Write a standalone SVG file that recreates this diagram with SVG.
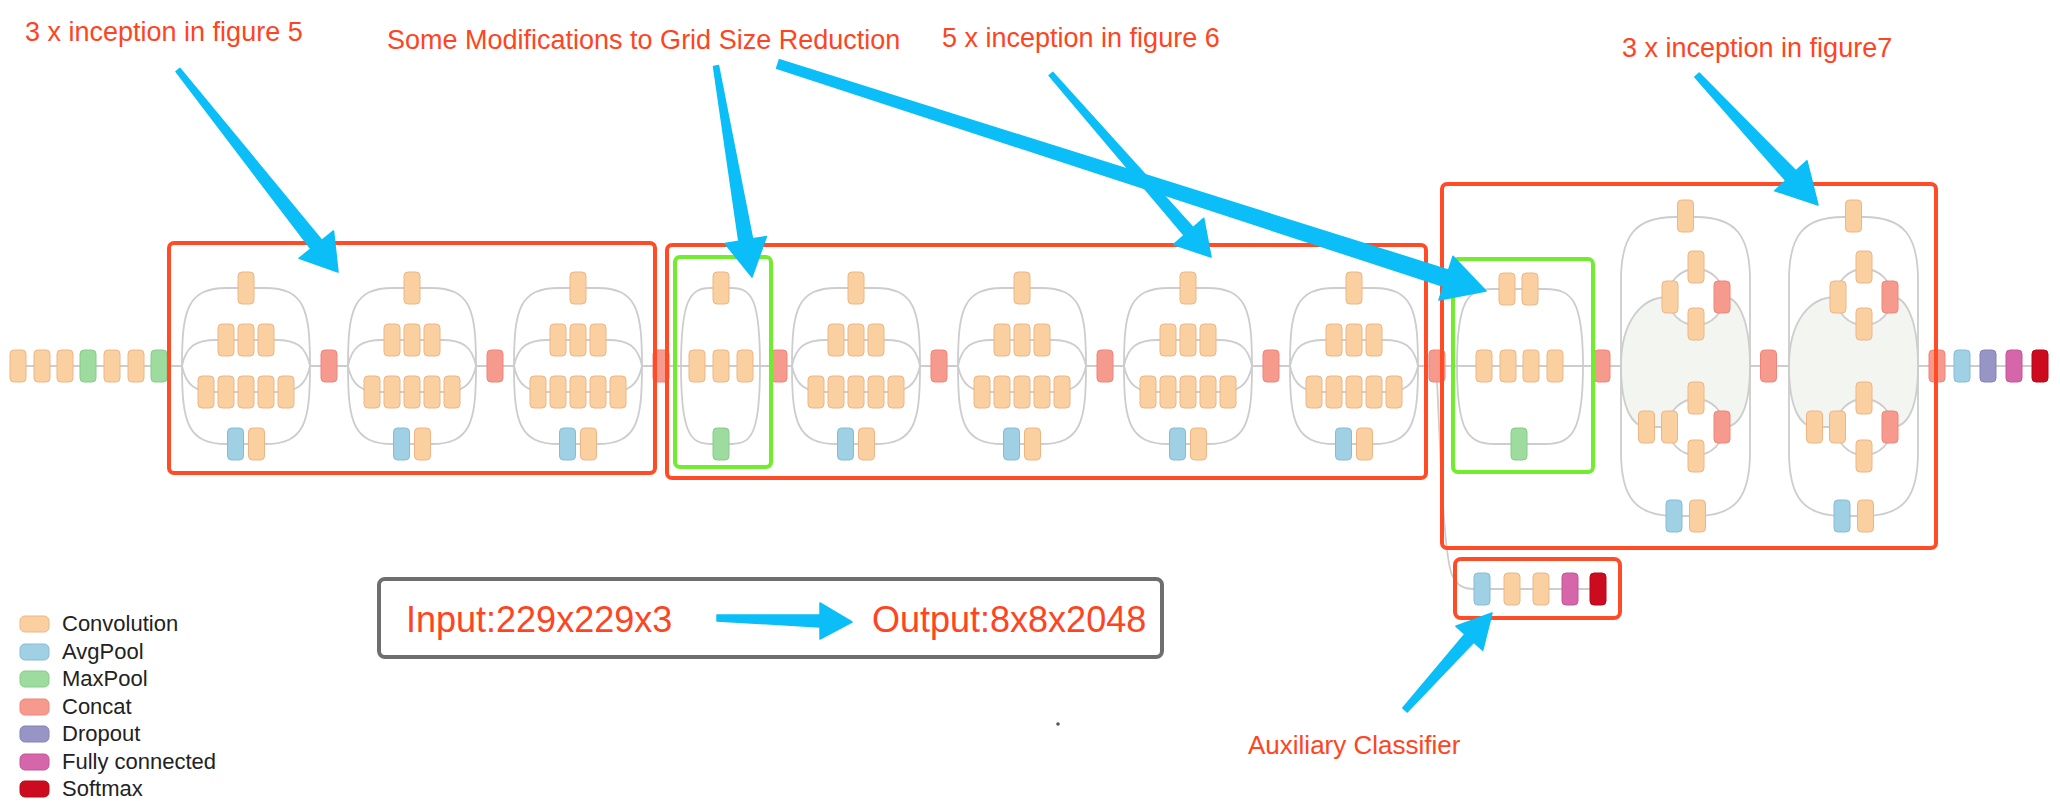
<svg xmlns="http://www.w3.org/2000/svg" xmlns:xlink="http://www.w3.org/1999/xlink" width="2060" height="804" viewBox="0 0 2060 804">
<style>
.ln{fill:none;stroke:#cdcdcd;stroke-width:1.8}
.blob{fill:#f3f6f0;stroke:none}
.cv{fill:#FBD0A1;stroke:#EDB585;stroke-width:1}
.av{fill:#9FD0E4;stroke:#86BDD6;stroke-width:1}
.mx{fill:#9EDB9E;stroke:#86CC88;stroke-width:1}
.cc{fill:#F79A8E;stroke:#EE8578;stroke-width:1}
.dr{fill:#9795C6;stroke:#8583B8;stroke-width:1}
.fc{fill:#D566AA;stroke:#C55598;stroke-width:1}
.sm{fill:#CC0B1E;stroke:#B8081A;stroke-width:1}
.rb{fill:none;stroke:#FF4B26;stroke-width:4}
.gb{fill:none;stroke:#72EC2E;stroke-width:4}
.ar{fill:#0BBEF7;stroke:#0BBEF7;stroke-width:1.5;stroke-linejoin:round}
.lbl{font-family:"Liberation Sans",Arial,sans-serif;fill:#FF4422}
.lg{font-family:"Liberation Sans",Arial,sans-serif;font-size:22px;fill:#222}
</style>
<defs>
<g id="tA">
<path class="ln" d="M0,366 C0,310 5,288 45,288 H83 C123,288 128,310 128,366"/>
<path class="ln" d="M0,366 C0,422 5,444 45,444 H83 C123,444 128,422 128,366"/>
<path class="ln" d="M0,366 C4,346 14,340 34,340 H94 C114,340 124,346 128,366"/>
<path class="ln" d="M0,366 C4,386 14,392 34,392 H94 C114,392 124,386 128,366"/>
<rect class="cv" x="56" y="272" width="16" height="32" rx="4"/>
<rect class="cv" x="36" y="324" width="16" height="32" rx="4"/>
<rect class="cv" x="56" y="324" width="16" height="32" rx="4"/>
<rect class="cv" x="76" y="324" width="16" height="32" rx="4"/>
<rect class="cv" x="16" y="376" width="16" height="32" rx="4"/>
<rect class="cv" x="36" y="376" width="16" height="32" rx="4"/>
<rect class="cv" x="56" y="376" width="16" height="32" rx="4"/>
<rect class="cv" x="76" y="376" width="16" height="32" rx="4"/>
<rect class="cv" x="96" y="376" width="16" height="32" rx="4"/>
<rect class="av" x="45.5" y="428" width="16" height="32" rx="4"/>
<rect class="cv" x="66.5" y="428" width="16" height="32" rx="4"/>
</g>
<g id="tC">
<path class="blob" d="M0,366 C0,322 20,297 47,297 A28,28 0 0 0 103,297 C118,297 129,322 129,366 C129,410 118,427 103,427 A28,28 0 0 0 47,427 L26,427 C12,427 0,410 0,366 Z"/>
<path class="ln" d="M0,366 L0,280 C0,236 14,217 54,217 H75 C115,217 129,236 129,280 L129,366"/>
<path class="ln" d="M0,366 L0,452 C0,497 14,516 54,516 H75 C115,516 129,497 129,452 L129,366"/>
<path class="ln" d="M0,366 C0,322 20,297 47,297 M103,297 C118,297 129,322 129,366"/>
<path class="ln" d="M0,366 C0,410 12,427 26,427 H47 M103,427 C118,427 129,410 129,366"/>
<circle class="ln" cx="75" cy="297" r="28"/>
<circle class="ln" cx="75" cy="427" r="28"/>
<rect class="cv" x="56.5" y="200" width="16" height="32" rx="4"/>
<rect class="cv" x="41" y="281" width="16" height="32" rx="4"/>
<rect class="cv" x="67" y="251" width="16" height="32" rx="4"/>
<rect class="cv" x="67" y="308" width="16" height="32" rx="4"/>
<rect class="cc" x="93" y="281" width="16" height="32" rx="4"/>
<rect class="cv" x="17.5" y="411" width="16" height="32" rx="4"/>
<rect class="cv" x="40.5" y="411" width="16" height="32" rx="4"/>
<rect class="cv" x="67" y="382" width="16" height="32" rx="4"/>
<rect class="cv" x="67" y="440" width="16" height="32" rx="4"/>
<rect class="cc" x="93" y="411" width="16" height="32" rx="4"/>
<rect class="av" x="45" y="500" width="16" height="32" rx="4"/>
<rect class="cv" x="68.5" y="500" width="16" height="32" rx="4"/>
</g>
</defs>
<rect width="2060" height="804" fill="#ffffff"/>

<g id="connectors">
<path class="ln" d="M18,366 H182 M310,366 H348 M476,366 H514 M642,366 H792 M920,366 H958 M1086,366 H1124 M1252,366 H1290 M1418,366 H1621 M1750,366 H1789 M1918,366 H2040"/>
<path class="ln" d="M681,366 C681,300 690,288 710,288 H732 C752,288 760,300 760,366 M681,366 C681,432 690,444 710,444 H732 C752,444 760,432 760,366"/>
<path class="ln" d="M1457,366 C1457,300 1468,289 1492,289 H1545 C1572,289 1583,300 1583,366 M1457,366 C1457,432 1468,444 1495,444 H1545 C1572,444 1583,432 1583,366"/>
<path class="ln" d="M1437,380 C1441,470 1444,555 1452,575 C1457,586 1464,589 1474,589 H1600"/>
</g>

<g id="stem">
<rect class="cv" x="10" y="350" width="16" height="32" rx="4"/>
<rect class="cv" x="34" y="350" width="16" height="32" rx="4"/>
<rect class="cv" x="57" y="350" width="16" height="32" rx="4"/>
<rect class="mx" x="80" y="350" width="16" height="32" rx="4"/>
<rect class="cv" x="104" y="350" width="16" height="32" rx="4"/>
<rect class="cv" x="128" y="350" width="16" height="32" rx="4"/>
<rect class="mx" x="151" y="350" width="16" height="32" rx="4"/>
</g>

<g id="inceptionA1"><use href="#tA" xlink:href="#tA" x="182"/></g>
<g id="inceptionA2"><use href="#tA" xlink:href="#tA" x="348"/></g>
<g id="inceptionA3"><use href="#tA" xlink:href="#tA" x="514"/></g>

<g id="reduction1">
<rect class="cv" x="713" y="272" width="16" height="32" rx="4"/>
<rect class="cv" x="689" y="350" width="16" height="32" rx="4"/>
<rect class="cv" x="713" y="350" width="16" height="32" rx="4"/>
<rect class="cv" x="737" y="350" width="16" height="32" rx="4"/>
<rect class="mx" x="713" y="428" width="16" height="32" rx="4"/>
</g>

<g id="inceptionB1"><use href="#tA" xlink:href="#tA" x="792"/></g>
<g id="inceptionB2"><use href="#tA" xlink:href="#tA" x="958"/></g>
<g id="inceptionB3"><use href="#tA" xlink:href="#tA" x="1124"/></g>
<g id="inceptionB4"><use href="#tA" xlink:href="#tA" x="1290"/></g>

<g id="reduction2">
<rect class="cv" x="1499" y="273" width="16" height="32" rx="4"/>
<rect class="cv" x="1522" y="273" width="16" height="32" rx="4"/>
<rect class="cv" x="1476" y="350" width="16" height="32" rx="4"/>
<rect class="cv" x="1500" y="350" width="16" height="32" rx="4"/>
<rect class="cv" x="1523" y="350" width="16" height="32" rx="4"/>
<rect class="cv" x="1547" y="350" width="16" height="32" rx="4"/>
<rect class="mx" x="1511" y="428" width="16" height="32" rx="4"/>
</g>

<g id="inceptionC1"><use href="#tC" xlink:href="#tC" x="1621"/></g>
<g id="inceptionC2"><use href="#tC" xlink:href="#tC" x="1789"/></g>

<g id="concats">
<rect class="cc" x="321" y="350" width="16" height="32" rx="4"/>
<rect class="cc" x="487" y="350" width="16" height="32" rx="4"/>
<rect class="cc" x="653" y="350" width="16" height="32" rx="4"/>
<rect class="cc" x="771" y="350" width="16" height="32" rx="4"/>
<rect class="cc" x="931" y="350" width="16" height="32" rx="4"/>
<rect class="cc" x="1097" y="350" width="16" height="32" rx="4"/>
<rect class="cc" x="1263" y="350" width="16" height="32" rx="4"/>
<rect class="cc" x="1429" y="350" width="16" height="32" rx="4"/>
<rect class="cc" x="1594" y="350" width="16" height="32" rx="4"/>
<rect class="cc" x="1760.5" y="350" width="16" height="32" rx="4"/>
<rect class="cc" x="1929" y="350" width="16" height="32" rx="4"/>
</g>

<g id="head">
<rect class="av" x="1954" y="350" width="16" height="32" rx="4"/>
<rect class="dr" x="1980" y="350" width="16" height="32" rx="4"/>
<rect class="fc" x="2006" y="350" width="16" height="32" rx="4"/>
<rect class="sm" x="2032" y="350" width="16" height="32" rx="4"/>
</g>

<g id="auxiliary">
<rect class="av" x="1474" y="573" width="16" height="32" rx="4"/>
<rect class="cv" x="1504" y="573" width="16" height="32" rx="4"/>
<rect class="cv" x="1533" y="573" width="16" height="32" rx="4"/>
<rect class="fc" x="1562" y="573" width="16" height="32" rx="4"/>
<rect class="sm" x="1590" y="573" width="16" height="32" rx="4"/>
</g>

<g id="boxes">
<rect class="rb" x="169" y="243" width="486" height="230" rx="5"/>
<rect class="rb" x="667" y="245" width="759" height="233" rx="5"/>
<rect class="rb" x="1442" y="184" width="494" height="364" rx="5"/>
<rect class="rb" x="1455" y="559" width="165" height="59" rx="6"/>
<rect class="gb" x="675" y="257" width="96" height="210" rx="5"/>
<rect class="gb" x="1453" y="259" width="140" height="213" rx="5"/>
</g>

<g id="io-box">
<rect x="379" y="579" width="783" height="78" rx="6" fill="none" stroke="#6e6e6e" stroke-width="4"/>
<text class="lbl" x="406" y="632" font-size="36">Input:229x229x3</text>
<text class="lbl" x="872" y="632" font-size="36">Output:8x8x2048</text>
<polygon class="ar" points="717,621 820,627 820,639 852,622 820,603 820,615 717,615"/>
</g>

<g id="labels">
<text class="lbl" x="25" y="41" font-size="27">3 x inception in figure 5</text>
<text class="lbl" x="387" y="49" font-size="27">Some Modifications to Grid Size Reduction</text>
<text class="lbl" x="942" y="47" font-size="27">5 x inception in figure 6</text>
<text class="lbl" x="1622" y="57" font-size="27">3 x inception in figure7</text>
<text class="lbl" x="1248" y="754" font-size="26">Auxiliary Classifier</text>
</g>

<g id="arrows">
<polygon class="ar" points="176.0,71.6 310.8,248.9 299.1,258.3 338,272 333.5,230.9 321.8,240.3 180.0,68.4"/>
<polygon class="ar" points="713.5,66.4 738.8,241.2 725.0,243.5 752,277 766.4,236.5 752.6,238.8 718.5,65.6"/>
<polygon class="ar" points="776.6,68.3 1443.4,286.3 1439.0,300.1 1486,291 1453.0,256.3 1448.6,270.1 779.4,59.7"/>
<polygon class="ar" points="1049.1,75.6 1184.1,235.3 1173.5,244.6 1211,257 1203.7,218.2 1193.1,227.5 1052.9,72.4"/>
<polygon class="ar" points="1694.8,77.0 1785.7,180.5 1774.7,190.7 1818,205 1806.9,160.7 1795.9,170.9 1699.2,73.0"/>
<polygon class="ar" points="1407.2,712.0 1473.8,642.3 1482.7,650.3 1492,613 1455.9,626.3 1464.8,634.3 1402.8,708.0"/>
</g>

<g id="legend">
<rect class="cv" x="20" y="616" width="29" height="16" rx="5"/>
<text class="lg" x="62" y="631">Convolution</text>
<rect class="av" x="20" y="644" width="29" height="16" rx="5"/>
<text class="lg" x="62" y="659">AvgPool</text>
<rect class="mx" x="20" y="671" width="29" height="16" rx="5"/>
<text class="lg" x="62" y="686">MaxPool</text>
<rect class="cc" x="20" y="699" width="29" height="16" rx="5"/>
<text class="lg" x="62" y="714">Concat</text>
<rect class="dr" x="20" y="726" width="29" height="16" rx="5"/>
<text class="lg" x="62" y="741">Dropout</text>
<rect class="fc" x="20" y="754" width="29" height="16" rx="5"/>
<text class="lg" x="62" y="769">Fully connected</text>
<rect class="sm" x="20" y="781" width="29" height="16" rx="5"/>
<text class="lg" x="62" y="796">Softmax</text>
</g>
<circle cx="1058" cy="724" r="1.8" fill="#555"/>
</svg>
